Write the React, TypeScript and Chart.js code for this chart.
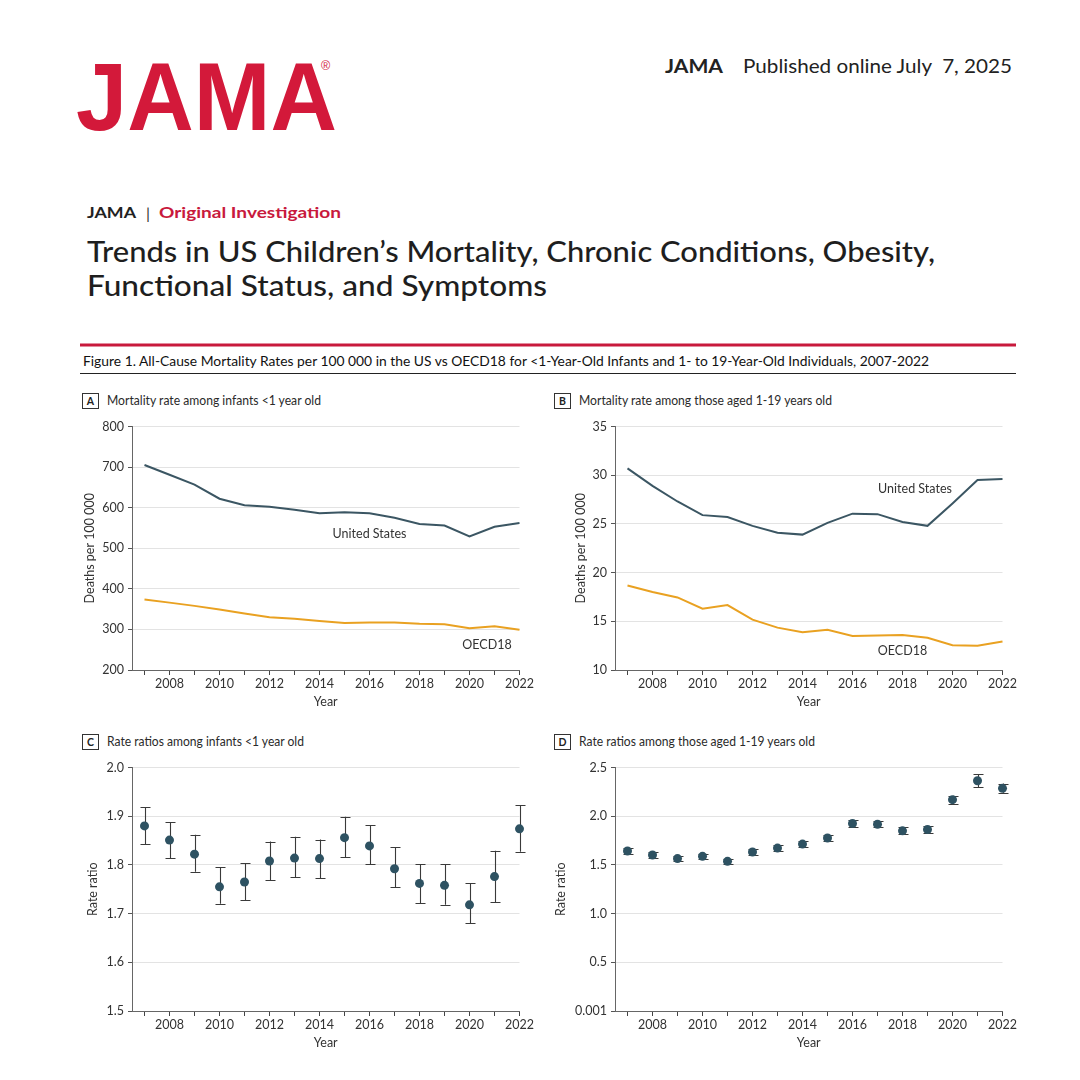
import React, { useEffect, useRef } from 'react';
import { Chart, registerables } from 'chart.js';

Chart.register(...registerables);

// ---------- data ----------
const YEARS = [2007, 2008, 2009, 2010, 2011, 2012, 2013, 2014, 2015, 2016, 2017, 2018, 2019, 2020, 2021, 2022];

const US_INFANT = [705, 681, 657, 622, 606, 602, 595, 586, 589, 586, 575, 560, 556, 529, 553, 562];
const OECD_INFANT = [374, 366, 358, 349, 339, 330, 326, 321, 316, 317, 317, 314, 313, 303, 308, 299];

const US_CHILD = [30.7, 28.9, 27.3, 25.9, 25.7, 24.8, 24.1, 23.9, 25.1, 26.05, 26.0, 25.2, 24.8, 27.1, 29.5, 29.6];
const OECD_CHILD = [18.67, 18.0, 17.45, 16.3, 16.67, 15.17, 14.35, 13.88, 14.12, 13.5, 13.54, 13.6, 13.3, 12.55, 12.48, 12.93];

const RR_INFANT = [1.880, 1.851, 1.822, 1.755, 1.765, 1.808, 1.814, 1.813, 1.856, 1.839, 1.792, 1.762, 1.758, 1.718, 1.776, 1.874];
const RR_INFANT_LO = [1.842, 1.814, 1.786, 1.720, 1.728, 1.769, 1.775, 1.773, 1.816, 1.801, 1.754, 1.721, 1.718, 1.680, 1.723, 1.827];
const RR_INFANT_HI = [1.918, 1.888, 1.862, 1.795, 1.804, 1.848, 1.858, 1.852, 1.899, 1.882, 1.837, 1.802, 1.802, 1.762, 1.829, 1.922];

const RR_CHILD = [1.643, 1.602, 1.565, 1.588, 1.537, 1.633, 1.673, 1.714, 1.776, 1.925, 1.918, 1.850, 1.864, 2.170, 2.364, 2.286];
const RR_CHILD_LO = [1.612, 1.575, 1.540, 1.560, 1.510, 1.605, 1.645, 1.685, 1.745, 1.890, 1.885, 1.815, 1.830, 2.130, 2.300, 2.240];
const RR_CHILD_HI = [1.670, 1.630, 1.590, 1.615, 1.565, 1.660, 1.700, 1.745, 1.805, 1.960, 1.950, 1.885, 1.900, 2.210, 2.430, 2.335];

const Y_TICKS_A = [200, 300, 400, 500, 600, 700, 800];
const Y_TICKS_B = [10, 15, 20, 25, 30, 35];
const Y_TICKS_C = [1.5, 1.6, 1.7, 1.8, 1.9, 2.0];
const Y_TICKS_D = [0.001, 0.5, 1.0, 1.5, 2.0, 2.5];

// ---------- styles ----------
const FONT = 'Lato, "Noto Sans", sans-serif';
const US_COLOR = '#3B5663';
const OECD_COLOR = '#E9A121';
const DOT_COLOR = '#2E5262';
const ERR_COLOR = '#3a3a3a';
const RED = '#D3193A';
const TEXT = '#2a2a2a';

const errorBarPlugin = {
  id: 'errorBars',
  beforeDatasetsDraw(chart: any, _args: any, opts: any) {
    if (!opts || !opts.low) return;
    const { ctx } = chart;
    const xs = chart.scales.x;
    const ys = chart.scales.y;
    const cap = 5;
    ctx.save();
    ctx.strokeStyle = ERR_COLOR;
    ctx.lineWidth = 1.1;
    opts.xs.forEach((xv: number, i: number) => {
      const px = Math.round(xs.getPixelForValue(xv)) + 0.5;
      const lo = ys.getPixelForValue(opts.low[i]);
      const hi = ys.getPixelForValue(opts.high[i]);
      ctx.beginPath();
      ctx.moveTo(px, lo);
      ctx.lineTo(px, hi);
      ctx.moveTo(px - cap, Math.round(lo) + 0.5);
      ctx.lineTo(px + cap, Math.round(lo) + 0.5);
      ctx.moveTo(px - cap, Math.round(hi) + 0.5);
      ctx.lineTo(px + cap, Math.round(hi) + 0.5);
      ctx.stroke();
    });
    ctx.restore();
  },
};

const seriesLabelPlugin = {
  id: 'seriesLabels',
  afterDatasetsDraw(chart: any, _args: any, opts: any) {
    if (!opts || !opts.items) return;
    const { ctx } = chart;
    ctx.save();
    ctx.font = `12.5px ${FONT}`;
    ctx.fillStyle = '#333';
    ctx.textAlign = 'center';
    ctx.textBaseline = 'middle';
    opts.items.forEach((it: any) => {
      ctx.fillText(it.text, chart.scales.x.getPixelForValue(it.x), chart.scales.y.getPixelForValue(it.y));
    });
    ctx.restore();
  },
};

function makeConfig(o: {
  datasets: any[];
  yMin: number;
  yMax: number;
  yTicks: number[];
  yFmt: (v: number) => string;
  yTitle: string;
  yTitlePad: number;
  errors?: any;
  labels?: any[];
}) {
  const tickFont = { family: FONT, size: 12.5 };
  return {
    type: 'line',
    data: { datasets: o.datasets },
    options: {
      animation: false,
      responsive: true,
      maintainAspectRatio: false,
      events: [],
      layout: { padding: { top: 10, right: 15, left: 0, bottom: 0 } },
      plugins: {
        legend: { display: false },
        tooltip: { enabled: false },
        errorBars: o.errors || {},
        seriesLabels: { items: o.labels || null },
      },
      scales: {
        x: {
          type: 'linear',
          min: 2006.5,
          max: 2022,
          afterBuildTicks: (s: any) => {
            s.ticks = YEARS.map((v) => ({ value: v }));
          },
          afterFit: (s: any) => {
            s.height = 45;
          },
          ticks: {
            autoSkip: false,
            maxRotation: 0,
            padding: 1,
            color: '#333',
            font: tickFont,
            callback: (v: number) => (v % 2 === 0 ? String(v) : ''),
          },
          grid: { drawOnChartArea: false, drawTicks: true, tickLength: 5, tickColor: '#444', color: '#444' },
          border: { display: true, color: '#666', width: 1 },
          title: { display: true, text: 'Year', color: '#333', font: tickFont, padding: { top: 0, bottom: 6 } },
        },
        y: {
          type: 'linear',
          min: o.yMin,
          max: o.yMax,
          afterBuildTicks: (s: any) => {
            s.ticks = o.yTicks.map((v) => ({ value: v }));
          },
          afterFit: (s: any) => {
            s.width = 72;
          },
          ticks: { padding: 4, color: '#333', font: tickFont, callback: (v: number) => o.yFmt(v) },
          grid: { color: '#e3e3e3', tickColor: '#555', tickLength: 4, lineWidth: 1 },
          border: { display: true, color: '#666', width: 1 },
          title: { display: true, text: o.yTitle, color: '#333', font: tickFont, padding: { top: o.yTitlePad, bottom: 0 } },
        },
      },
    },
    plugins: [errorBarPlugin, seriesLabelPlugin],
  };
}

const lineSet = (vals: number[], color: string) => ({
  data: YEARS.map((x, i) => ({ x, y: vals[i] })),
  borderColor: color,
  borderWidth: 2,
  pointRadius: 0,
  fill: false,
  tension: 0,
  clip: false,
});

const dotSet = (vals: number[]) => ({
  data: YEARS.map((x, i) => ({ x, y: vals[i] })),
  showLine: false,
  pointRadius: 4.5,
  pointBackgroundColor: DOT_COLOR,
  pointBorderWidth: 0,
  clip: false,
});

function ChartBox({ left, top, build }: { left: number; top: number; build: () => any }) {
  const ref = useRef<HTMLCanvasElement>(null);
  useEffect(() => {
    const chart = new Chart(ref.current as HTMLCanvasElement, build());
    return () => chart.destroy();
  }, []);
  return (
    <div style={{ position: 'absolute', left, top, width: 475, height: 300 }}>
      <canvas ref={ref} />
    </div>
  );
}

function PanelHead({ x, y, letter, text, w }: { x: number; y: number; letter: string; text: string; w: number }) {
  return (
    <g>
      <rect x={x + 0.5} y={y - 11.5} width={16} height={15} fill="none" stroke="#333" strokeWidth={1} />
      <text x={x + 8.5} y={y} textAnchor="middle" fontFamily={FONT} fontWeight={700} fontSize={10.5} fill="#222">
        {letter}
      </text>
      <text x={x + 25} y={y} fontFamily={FONT} fontSize={13.5} fill={TEXT} textLength={w} lengthAdjust="spacingAndGlyphs">
        {text}
      </text>
    </g>
  );
}

export default function App() {
  return (
    <div style={{ position: 'absolute', left: 0, top: 0, width: 1080, height: 1080, background: '#fff', overflow: 'hidden' }}>
      <svg width={1080} height={1080} style={{ position: 'absolute', left: 0, top: 0 }}>
        <text x={76} y={130} fontFamily='"Liberation Sans", Arial, sans-serif' fontWeight={700} fontSize={97} fill={RED} textLength={261} lengthAdjust="spacingAndGlyphs">
          JAMA
        </text>
        <text x={321} y={70} fontFamily='"Liberation Sans", Arial, sans-serif' fontSize={12.5} fill={RED}>
          ®
        </text>

        <text x={665} y={73} fontFamily={FONT} fontWeight={700} fontSize={19.5} fill="#222" textLength={58} lengthAdjust="spacingAndGlyphs">
          JAMA
        </text>
        <text x={743} y={73} fontFamily={FONT} fontWeight={400} fontSize={20} fill="#222" textLength={269} lengthAdjust="spacingAndGlyphs">
          {'Published online July\u00a0 7, 2025'}
        </text>

        <text x={87} y={218} fontFamily={FONT} fontWeight={700} fontSize={16} fill="#222" textLength={49} lengthAdjust="spacingAndGlyphs">
          JAMA
        </text>
        <text x={146} y={219} fontFamily={FONT} fontSize={16} fill="#333">
          |
        </text>
        <text x={159} y={218} fontFamily={FONT} fontWeight={700} fontSize={16} fill="#C8193C" textLength={182} lengthAdjust="spacingAndGlyphs">
          Original Investigation
        </text>

        <text x={87} y={262} fontFamily={FONT} fontWeight={500} fontSize={29} fill="#1e1e1e" textLength={848} lengthAdjust="spacingAndGlyphs">
          Trends in US Children’s Mortality, Chronic Conditions, Obesity,
        </text>
        <text x={87} y={296} fontFamily={FONT} fontWeight={500} fontSize={29} fill="#1e1e1e" textLength={460} lengthAdjust="spacingAndGlyphs">
          Functional Status, and Symptoms
        </text>

        <rect x={80} y={343.5} width={936} height={3} fill="#C8193C" />
        <text x={83} y={366} fontFamily={FONT} fontWeight={400} fontSize={14} fill="#111" textLength={846} lengthAdjust="spacingAndGlyphs">
          Figure 1. All-Cause Mortality Rates per 100 000 in the US vs OECD18 for &lt;1-Year-Old Infants and 1- to 19-Year-Old Individuals, 2007-2022
        </text>
        <line x1={80} x2={1016} y1={373.5} y2={373.5} stroke="#222" strokeWidth={1} />

        <PanelHead x={82} y={405} letter="A" text="Mortality rate among infants <1 year old" w={214} />
        <PanelHead x={554} y={405} letter="B" text="Mortality rate among those aged 1-19 years old" w={253} />
        <PanelHead x={82} y={746} letter="C" text="Rate ratios among infants <1 year old" w={197} />
        <PanelHead x={554} y={746} letter="D" text="Rate ratios among those aged 1-19 years old" w={236} />
      </svg>

      <ChartBox
        left={60}
        top={415}
        build={() =>
          makeConfig({
            datasets: [lineSet(US_INFANT, US_COLOR), lineSet(OECD_INFANT, OECD_COLOR)],
            yMin: 200,
            yMax: 800,
            yTicks: Y_TICKS_A,
            yFmt: (v) => String(v),
            yTitle: 'Deaths per 100 000',
            yTitlePad: 22,
            labels: [
              { text: 'United States', x: 2016, y: 535 },
              { text: 'OECD18', x: 2020.7, y: 261 },
            ],
          })
        }
      />
      <ChartBox
        left={543}
        top={415}
        build={() =>
          makeConfig({
            datasets: [lineSet(US_CHILD, US_COLOR), lineSet(OECD_CHILD, OECD_COLOR)],
            yMin: 10,
            yMax: 35,
            yTicks: Y_TICKS_B,
            yFmt: (v) => String(v),
            yTitle: 'Deaths per 100 000',
            yTitlePad: 30,
            labels: [
              { text: 'United States', x: 2018.5, y: 28.6 },
              { text: 'OECD18', x: 2018, y: 12.0 },
            ],
          })
        }
      />
      <ChartBox
        left={60}
        top={756}
        build={() =>
          makeConfig({
            datasets: [dotSet(RR_INFANT)],
            yMin: 1.5,
            yMax: 2.0,
            yTicks: Y_TICKS_C,
            yFmt: (v) => v.toFixed(1),
            yTitle: 'Rate ratio',
            yTitlePad: 25,
            errors: { xs: YEARS, low: RR_INFANT_LO, high: RR_INFANT_HI },
          })
        }
      />
      <ChartBox
        left={543}
        top={756}
        build={() =>
          makeConfig({
            datasets: [dotSet(RR_CHILD)],
            yMin: 0.001,
            yMax: 2.5,
            yTicks: Y_TICKS_D,
            yFmt: (v) => (Math.abs(v - 0.001) < 1e-9 ? '0.001' : v.toFixed(1)),
            yTitle: 'Rate ratio',
            yTitlePad: 10,
            errors: { xs: YEARS, low: RR_CHILD_LO, high: RR_CHILD_HI },
          })
        }
      />
    </div>
  );
}
